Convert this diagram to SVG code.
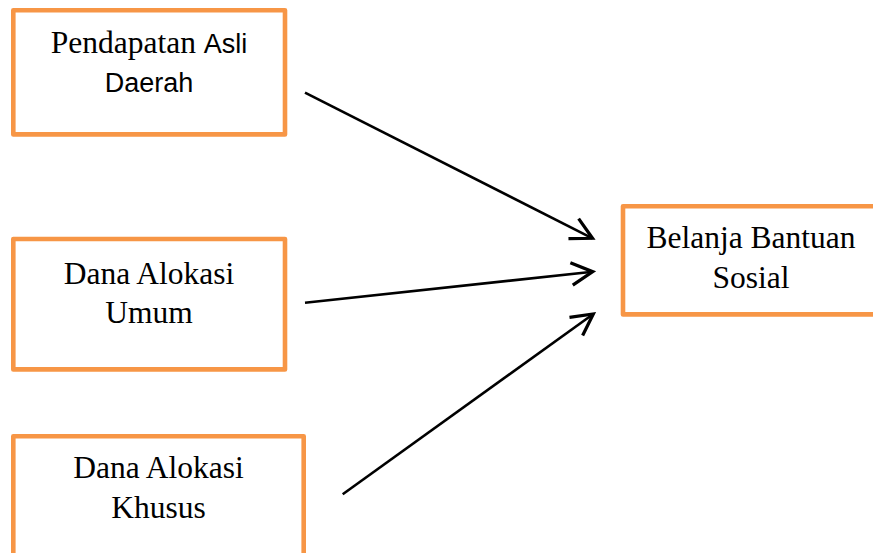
<svg xmlns="http://www.w3.org/2000/svg" width="873" height="553" viewBox="0 0 873 553">
<style>
.box{fill:#fff;stroke:#F79646;stroke-width:4.6;stroke-linejoin:round}
.serif{font-family:"Liberation Serif","Times New Roman",serif;font-size:31.5px;fill:#000}
.sans{font-family:"Liberation Sans",Arial,sans-serif;font-size:27px;fill:#000}
.conn{fill:none;stroke:#000;stroke-width:2.6}
</style>
<defs>
<marker id="arr" markerUnits="userSpaceOnUse" markerWidth="30" markerHeight="30" viewBox="-20 -12 24 24" refX="0" refY="0" orient="auto">
<path d="M-17,-9 L0,0 L-17,9" fill="none" stroke="#000" stroke-width="2.6" stroke-linejoin="miter" stroke-linecap="butt"/>
</marker>
</defs>
<rect width="873" height="553" fill="#fff"/>
<g id="node-pad">
<rect class="box" x="13.3" y="10.3" width="271.7" height="124.1"/>
<text x="149" y="52.7" text-anchor="middle"><tspan class="serif">Pendapatan </tspan><tspan class="sans">Asli</tspan></text>
<text class="sans" x="149" y="91.7" text-anchor="middle">Daerah</text>
</g>
<g id="node-dau">
<rect class="box" x="13.3" y="239" width="271.7" height="130.4"/>
<text class="serif" x="149" y="284.3" text-anchor="middle">Dana Alokasi</text>
<text class="serif" x="149" y="323.3" text-anchor="middle">Umum</text>
</g>
<g id="node-dak">
<rect class="box" x="13.3" y="436.3" width="290.4" height="130"/>
<text class="serif" x="158.5" y="478.3" text-anchor="middle">Dana Alokasi</text>
<text class="serif" x="158.5" y="518.3" text-anchor="middle">Khusus</text>
</g>
<g id="node-bbs">
<rect class="box" x="623" y="206.3" width="256" height="108.1"/>
<text class="serif" x="751" y="248.3" text-anchor="middle">Belanja Bantuan</text>
<text class="serif" x="751" y="288.3" text-anchor="middle">Sosial</text>
</g>
<g id="connectors">
<line class="conn" x1="305" y1="92.7" x2="592.5" y2="238.3" marker-end="url(#arr)"/>
<line class="conn" x1="305" y1="302.7" x2="592.7" y2="271.7" marker-end="url(#arr)"/>
<line class="conn" x1="342.7" y1="494.3" x2="593.3" y2="314" marker-end="url(#arr)"/>
</g>
</svg>
